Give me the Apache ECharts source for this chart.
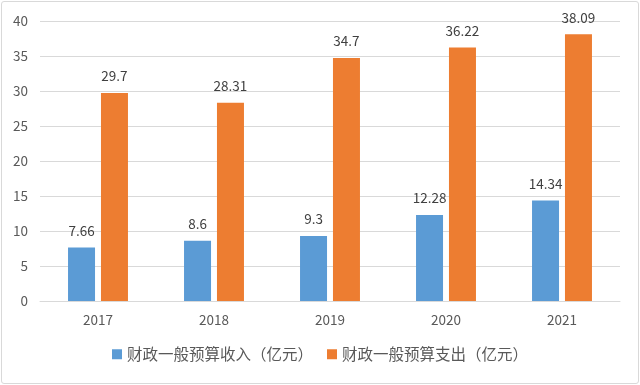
<!DOCTYPE html>
<html><head><meta charset="utf-8">
<script src="https://cdn.jsdelivr.net/npm/echarts@6/dist/echarts.min.js"></script>
<style>
html,body{margin:0;padding:0;background:#fff;}
#wrap{position:absolute;left:1px;top:1px;width:636px;height:381px;border:1px solid #d9d9d9;border-radius:3px;}
#c{position:absolute;left:-2px;top:-2px;width:640px;height:385px;}
</style></head>
<body><div id="wrap"><div id="c"></div></div>
<script>
const categories = ['2017','2018','2019','2020','2021'];
const incomeName = '财政一般预算收入（亿元）';
const expenseName = '财政一般预算支出（亿元）';
const income = [7.66, 8.6, 9.3, 12.28, 14.34];
const expense = [29.7, 28.31, 34.7, 36.22, 38.09];
const yTicks = {min:0, max:40, interval:5};

const font = '"Noto Sans CJK SC", "Open Sans", sans-serif';
const chart = echarts.init(document.getElementById('c'));
chart.setOption({
  animation:false,
  textStyle:{fontFamily:font},
  grid:{left:40, right:20, top:21, bottom:84},
  legend:{
    bottom:18, left:'center', itemWidth:10, itemHeight:10, itemGap:14, icon:'rect',
    textStyle:{color:'#595959', fontSize:15.5, fontFamily:font, padding:[0,0,0,0]}
  },
  xAxis:{
    type:'category', data:categories,
    axisLine:{lineStyle:{color:'#d9d9d9'}}, axisTick:{show:false},
    axisLabel:{color:'#595959', fontSize:13.5, margin:12, fontFamily:font}
  },
  yAxis:{
    type:'value', min:yTicks.min, max:yTicks.max, interval:yTicks.interval,
    axisLine:{show:false}, axisTick:{show:false},
    splitLine:{lineStyle:{color:'#d9d9d9'}},
    axisLabel:{color:'#595959', fontSize:13.5, margin:12, fontFamily:font}
  },
  series:[
    {name:incomeName, type:'bar', data:income, barWidth:27, barGap:'22%',
     itemStyle:{color:'#5b9bd5'},
     label:{show:true, position:'top', distance:10, color:'#404040', fontSize:13.5, fontFamily:font}},
    {name:expenseName, type:'bar', data:expense, barWidth:27,
     itemStyle:{color:'#ed7d31'},
     label:{show:true, position:'top', distance:10, color:'#404040', fontSize:13.5, fontFamily:font}}
  ]
});
</script></body></html>
